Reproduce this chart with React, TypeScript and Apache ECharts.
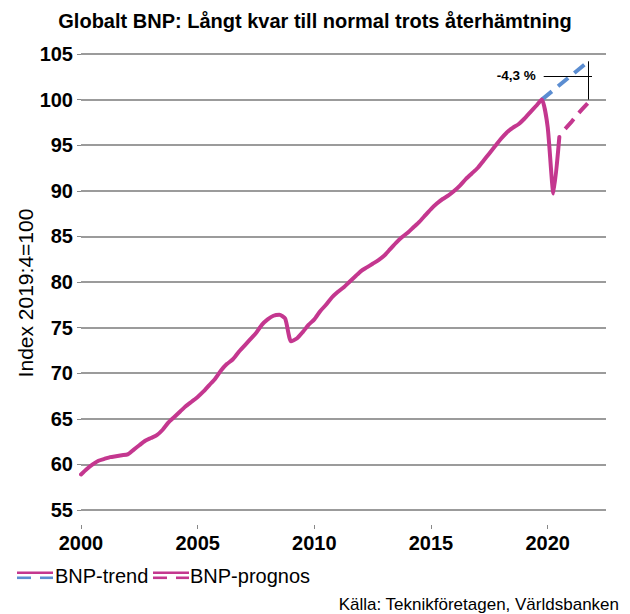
import { useEffect, useRef } from 'react';
import * as echarts from 'echarts';

// Quarterly global GDP index, 2019:4 = 100, starting 2000:1
const START_YEAR = 2000;
const gdpActual = [
  58.9, 59.5, 60.0, 60.4,
  60.6, 60.8, 60.9, 61.0,
  61.1, 61.6, 62.1, 62.6,
  62.9, 63.2, 63.8, 64.6,
  65.2, 65.8, 66.4, 66.9,
  67.4, 68.0, 68.7, 69.4,
  70.3, 71.0, 71.5, 72.3,
  73.0, 73.7, 74.4, 75.3,
  75.9, 76.3, 76.4, 76.0,
  73.5, 73.8, 74.5, 75.3,
  75.9, 76.8, 77.5, 78.3,
  78.9, 79.4, 80.0, 80.6,
  81.2, 81.6, 82.0, 82.4,
  82.9, 83.6, 84.3, 84.9,
  85.4, 86.0, 86.6, 87.3,
  88.0, 88.6, 89.1, 89.5,
  90.0, 90.6, 91.3, 91.9,
  92.5, 93.3, 94.1, 94.9,
  95.7, 96.4, 96.9, 97.3,
  97.9, 98.6, 99.3, 100.0,
  97.0, 89.7, 95.9,
];

// Forecast path, 2020:4 – 2021:4
const forecastStart = '2020:4';
const gdpForecast = [96.8, 97.5, 98.3, 99.0, 99.7];

// Pre-crisis trend
const trendQuarters = ['2019:4', '2021:4'];
const trendValues = [100, 104.2];

const yearTicks = [2000, 2005, 2010, 2015, 2020];
const gapText = '-4,3 %';
const gapLevel = 102.6;

const PINK = '#C4378F';
const BLUE = '#5B8DD1';
const FONT = '"Liberation Sans", Arial, Helvetica, sans-serif';

const quarterToYear = (q: string) => {
  const [y, n] = q.split(':').map(Number);
  return y + (n - 1) / 4;
};

export default function App() {
  const ref = useRef<HTMLDivElement>(null);

  useEffect(() => {
    if (!ref.current) return;
    const chart = echarts.init(ref.current, null, { renderer: 'svg' });

    const actualData = gdpActual.map((v, i) => [START_YEAR + i / 4, v]);
    const fStart = quarterToYear(forecastStart);
    const forecastData = gdpForecast.map((v, i) => [fStart + i / 4, v]);
    const trendData = trendQuarters.map((q, i) => [quarterToYear(q), trendValues[i]]);
    const trendEnd = quarterToYear(trendQuarters[trendQuarters.length - 1]);

    const legendItems = [
      { name: 'BNP-trend', x: 17, top: PINK, bottom: BLUE, textX: 55 },
      { name: 'BNP-prognos', x: 153, top: PINK, bottom: PINK, textX: 190 },
    ];
    const legendGraphics: any[] = [];
    legendItems.forEach((it) => {
      legendGraphics.push(
        { type: 'rect', shape: { x: it.x, y: 571.5, width: 36, height: 2.6 }, style: { fill: it.top } },
        { type: 'rect', shape: { x: it.x, y: 576.5, width: 14, height: 2.6 }, style: { fill: it.bottom } },
        { type: 'rect', shape: { x: it.x + 23, y: 576.5, width: 13, height: 2.6 }, style: { fill: it.bottom } },
        {
          type: 'text',
          x: it.textX,
          y: 576,
          style: { text: it.name, font: `20px ${FONT}`, fill: '#000', textVerticalAlign: 'middle' },
        }
      );
    });

    chart.setOption({
      animation: false,
      backgroundColor: '#fff',
      title: {
        text: 'Globalt BNP: Långt kvar till normal trots återhämtning',
        left: 'center',
        top: 6,
        textStyle: { fontFamily: FONT, fontSize: 20, fontWeight: 'bold', color: '#000' },
      },
      grid: { left: 81, right: 24, top: 54, bottom: 104 },
      xAxis: {
        type: 'value',
        min: 2000,
        max: 2022.5,
        offset: 15,
        axisLine: { show: false },
        splitLine: { show: false },
        axisTick: { show: true, length: 4, customValues: yearTicks, lineStyle: { color: '#888', width: 1 } },
        axisLabel: {
          customValues: yearTicks,
          formatter: (v: number) => String(v),
          margin: 8,
          fontFamily: FONT,
          fontSize: 20,
          fontWeight: 'bold',
          color: '#000',
        },
      },
      yAxis: {
        type: 'value',
        min: 55,
        max: 105,
        interval: 5,
        axisLine: { show: false },
        axisTick: { show: true, length: 4, lineStyle: { color: '#888', width: 1 } },
        splitLine: { lineStyle: { color: '#7a7a7a', width: 1.6 } },
        axisLabel: { margin: 8, fontFamily: FONT, fontSize: 20, fontWeight: 'bold', color: '#000' },
      },
      graphic: [
        {
          type: 'text',
          x: 25,
          y: 293,
          rotation: Math.PI / 2,
          style: {
            text: 'Index 2019:4=100',
            font: `21px ${FONT}`,
            fill: '#000',
            textAlign: 'center',
            textVerticalAlign: 'middle',
          },
        },
        {
          type: 'text',
          x: 619,
          y: 604,
          style: {
            text: 'Källa: Teknikföretagen, Världsbanken',
            font: `17px ${FONT}`,
            fill: '#000',
            textAlign: 'right',
            textVerticalAlign: 'middle',
          },
        },
        ...legendGraphics,
      ],
      series: [
        {
          name: 'BNP-trend',
          type: 'line',
          data: trendData,
          showSymbol: false,
          lineStyle: { color: BLUE, width: 4, type: [13, 8] },
          z: 3,
          markLine: {
            silent: true,
            symbol: ['none', 'none'],
            lineStyle: { color: '#000', width: 1, type: 'solid' },
            label: { show: false },
            data: [
              [
                {
                  coord: [2019.83, gapLevel],
                  label: {
                    show: true,
                    position: 'start',
                    distance: 8,
                    formatter: gapText,
                    fontFamily: FONT,
                    fontSize: 13.5,
                    fontWeight: 'bold',
                    color: '#000',
                  },
                },
                { coord: [2021.9, gapLevel] },
              ],
              [{ coord: [trendEnd, trendValues[1]] }, { coord: [trendEnd, 100] }],
            ],
          },
        },
        {
          name: 'BNP',
          type: 'line',
          data: actualData,
          showSymbol: false,
          smooth: 0.2,
          lineStyle: { color: PINK, width: 4, join: 'round', cap: 'round' },
          z: 4,
        },
        {
          name: 'BNP-prognos',
          type: 'line',
          data: forecastData,
          showSymbol: false,
          lineStyle: { color: PINK, width: 4, type: [13, 8] },
          z: 4,
        },
      ],
    });

    return () => chart.dispose();
  }, []);

  return (
    <div
      ref={ref}
      style={{ position: 'absolute', left: 0, top: 0, width: 630, height: 614 }}
    />
  );
}
